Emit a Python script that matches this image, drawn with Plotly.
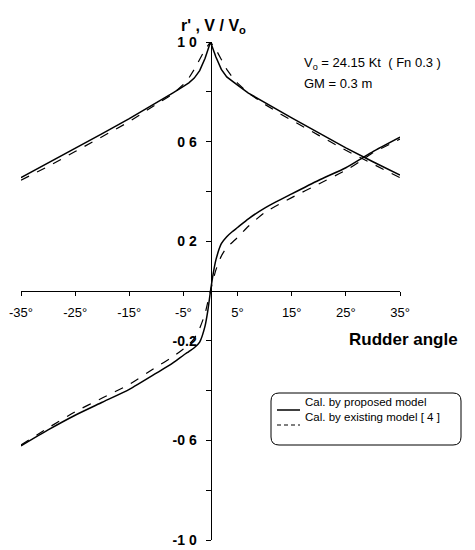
import plotly.graph_objects as go

# ---- data ----
angle_v = [-35, -30, -25, -20, -15, -10, -7, -5, -4, -3, -2, -1, 0, 1, 2, 3, 4, 5, 7, 10, 13, 15, 20, 25, 30, 35]
v_prop = [0.455, 0.513, 0.573, 0.632, 0.692, 0.755, 0.795, 0.822, 0.836, 0.855, 0.885, 0.935, 1.0,
          0.94, 0.89, 0.86, 0.842, 0.827, 0.795, 0.757, 0.719, 0.695, 0.635, 0.575, 0.519, 0.466]
v_exist = [0.445, 0.50, 0.56, 0.62, 0.68, 0.75, 0.79, 0.83, 0.855, 0.89, 0.93, 0.97, 1.0,
           0.97, 0.93, 0.89, 0.86, 0.835, 0.795, 0.75, 0.71, 0.685, 0.625, 0.565, 0.51, 0.455]

angle_r = [-35, -30, -25, -20, -15, -10, -7, -5, -4, -3, -2, -1, -0.5, 0, 0.5, 1, 2, 3, 4, 5, 7, 10, 15, 20, 25, 28.3, 30, 35]
r_prop = [-0.622, -0.558, -0.499, -0.447, -0.395, -0.33, -0.29, -0.258, -0.243, -0.228, -0.205, -0.14, -0.08, 0.0,
          0.07, 0.125, 0.19, 0.218, 0.238, 0.255, 0.29, 0.333, 0.39, 0.445, 0.495, 0.538, 0.56, 0.618]
r_exist = [-0.618, -0.55, -0.485, -0.43, -0.375, -0.305, -0.265, -0.233, -0.215, -0.19, -0.15, -0.09, -0.045, 0.0,
           0.045, 0.085, 0.14, 0.175, 0.195, 0.215, 0.26, 0.315, 0.375, 0.43, 0.485, 0.53, 0.555, 0.61]

x_tickvals = [-35, -25, -15, -5, 5, 15, 25, 35]
x_ticktext = ["-35°", "-25°", "-15°", "-5°", "5°", "15°", "25°", "35°"]
y_tickvals = [-1.0, -0.6, -0.2, 0.2, 0.6, 1.0]
y_ticktext = ["-1 0", "-0 6", "-0.2", "0 2", "0 6", "1 0"]
y_minor_tickvals = [-0.8, -0.4, 0.4, 0.8]

series_names = ["Cal. by proposed model", "Cal. by existing model [ 4 ]"]

FONT = "Liberation Sans, Arial, sans-serif"
SOLID = dict(color="black", width=1.5)
DASHED = dict(color="black", width=1.2, dash="dash")

fig = go.Figure()
fig.add_trace(go.Scatter(x=angle_v, y=v_prop, mode="lines", name=series_names[0],
                         line=SOLID, showlegend=False))
fig.add_trace(go.Scatter(x=angle_v, y=v_exist, mode="lines", name=series_names[1],
                         line=DASHED, showlegend=False))
fig.add_trace(go.Scatter(x=angle_r, y=r_prop, mode="lines", name=series_names[0],
                         line=dict(SOLID, shape="spline", smoothing=0.6), showlegend=False))
fig.add_trace(go.Scatter(x=angle_r, y=r_exist, mode="lines", name=series_names[1],
                         line=dict(DASHED, shape="spline", smoothing=0.6), showlegend=False))

L, R, T, B = 21, 75, 42, 10
W, H = 475, 550
pw, ph = W - L - R, H - T - B


def px(x):
    return (x - L) / pw


def py(y):
    return (H - B - y) / ph


fig.update_layout(
    width=W, height=H,
    margin=dict(l=L, r=R, t=T, b=B, autoexpand=False),
    paper_bgcolor="white", plot_bgcolor="white",
    font=dict(family=FONT, color="black", size=13),
    xaxis=dict(range=[-35, 35], anchor="free", position=0.5, showgrid=False, zeroline=False,
               showline=True, linecolor="black", linewidth=1, automargin=False,
               tickmode="array", tickvals=x_tickvals, ticktext=x_ticktext,
               ticks="outside", ticklen=4, tickcolor="black", ticklabelstandoff=5,
               tickfont=dict(size=13, family=FONT)),
    yaxis=dict(range=[-1.0, 1.0], anchor="free", position=0.5, showgrid=False, zeroline=False,
               showline=True, linecolor="black", linewidth=1, automargin=False,
               tickmode="array", tickvals=y_tickvals, ticktext=y_ticktext,
               ticks="outside", ticklen=5, tickcolor="black", ticklabelstandoff=6,
               minor=dict(tickmode="array", tickvals=y_minor_tickvals, ticks="outside",
                          ticklen=5, tickcolor="black"),
               tickfont=dict(size=14, family=FONT, weight="bold")),
    showlegend=False,
)

# legend (drawn by hand to match the rounded frame and tight spacing)
x0, x1, y0, y1 = px(271), px(461), py(393), py(445)
rx = 8 / pw
ry = 8 / ph
path = (f"M {x0+rx},{y0} L {x1-rx},{y0} Q {x1},{y0} {x1},{y0-ry} "
        f"L {x1},{y1+ry} Q {x1},{y1} {x1-rx},{y1} L {x0+rx},{y1} Q {x0},{y1} {x0},{y1+ry} "
        f"L {x0},{y0-ry} Q {x0},{y0} {x0+rx},{y0} Z")
fig.add_shape(type="path", path=path, xref="paper", yref="paper",
              line=dict(color="black", width=1))
for i, (name, style) in enumerate(zip(series_names, [SOLID, DASHED])):
    yy = 410 + 15 * i
    fig.add_shape(type="line", xref="paper", yref="paper",
                  x0=px(277), x1=px(300), y0=py(yy), y1=py(yy),
                  line=dict(color="black", width=style["width"],
                            dash="solid" if i == 0 else "4px,3px"))
    fig.add_annotation(x=px(303), y=py(yy), xref="paper", yref="paper", showarrow=False,
                       xanchor="left", text=name, font=dict(size=11.5, family=FONT))

fig.add_annotation(x=px(213), y=py(15), xref="paper", yref="paper", showarrow=False,
                   text="<b>r' , V / V<sub>o</sub></b>", font=dict(size=16, family=FONT))
fig.add_annotation(x=px(302), y=py(53), xref="paper", yref="paper", showarrow=False,
                   xanchor="left", text="V<sub>o</sub> = 24.15 Kt  ( Fn 0.3 )",
                   font=dict(size=13, family=FONT))
fig.add_annotation(x=px(302), y=py(74), xref="paper", yref="paper", showarrow=False,
                   xanchor="left", text="GM = 0.3 m", font=dict(size=13, family=FONT))
fig.add_annotation(x=px(347), y=py(339), xref="paper", yref="paper", showarrow=False,
                   xanchor="left", text="<b>Rudder angle</b>", font=dict(size=17, family=FONT))

fig.write_html("out.html", config={"displayModeBar": False},
               post_script="document.body.style.margin='0';document.body.style.overflow='hidden';")
